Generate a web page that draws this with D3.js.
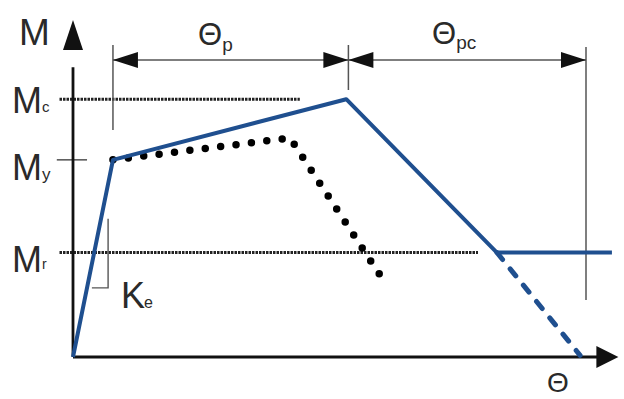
<!DOCTYPE html>
<html>
<head>
<meta charset="utf-8">
<script src="https://cdn.jsdelivr.net/npm/d3@7"></script>
<style>
  html, body { margin: 0; padding: 0; background: #fff; }
  svg { display: block; }
  text { font-family: "Liberation Sans", Arial, sans-serif; fill: #2a2a2a; }
</style>
</head>
<body>
<svg id="chart" width="624" height="399"></svg>
<script>
// Moment–rotation backbone (arbitrary units)
const backboneTheta = [0, 0.74, 5.06, 7.85, 9.98];
const backboneM     = [0, 5.85, 7.65, 3.1, 3.1];
// Continuation of the softening branch below the residual strength
const softenTheta = [7.85, 9.39];
const softenM     = [3.1, 0.05];
// Alternative (dotted) backbone
const altTheta = [0.74, 4.02, 5.8];
const altM     = [5.85, 6.5, 2.15];
// Reference levels
const levelNames = ["c", "y", "r"];
const levelM     = [7.65, 5.85, 3.1];
// Characteristic rotations bounding the dimension lines
const thetaY = 0.74, thetaC = 5.1, thetaU = 9.5;

const svg = d3.select("#chart");
const x = d3.scaleLinear().domain([0, 10]).range([73, 613]);
const y = d3.scaleLinear().domain([0, 10]).range([357, 20]);
const blue = "#1f4f8f";

const line = d3.line().x(d => x(d[0])).y(d => y(d[1]));
const zip = (a, b) => a.map((v, i) => [v, b[i]]);

// Horizontal reference lines for Mc and Mr
const refEnd = { c: 4.2, r: 7.5 };
["c", "r"].forEach(k => {
  const m = levelM[levelNames.indexOf(k)];
  svg.append("line")
    .attr("x1", x(-0.25)).attr("x2", x(refEnd[k]))
    .attr("y1", y(m)).attr("y2", y(m))
    .attr("stroke", "#222").attr("stroke-width", 3)
    .attr("stroke-dasharray", "2.5,1");
});
// My tick
svg.append("line")
  .attr("x1", x(-0.3)).attr("x2", x(0.26))
  .attr("y1", y(levelM[1])).attr("y2", y(levelM[1]))
  .attr("stroke", "#444").attr("stroke-width", 1.4);

// Axes
svg.append("line").attr("x1", x(0)).attr("x2", x(0))
  .attr("y1", y(0)).attr("y2", y(8.6))
  .attr("stroke", "#111").attr("stroke-width", 2.8);
svg.append("line").attr("x1", x(0)).attr("x2", x(9.8))
  .attr("y1", y(0)).attr("y2", y(0))
  .attr("stroke", "#111").attr("stroke-width", 2.8);
svg.append("path")
  .attr("d", `M${x(0)},${y(10)} L${x(0) - 10},${y(10) + 30} L${x(0) + 10},${y(10) + 30} Z`)
  .attr("fill", "#111");
svg.append("path")
  .attr("d", `M${x(10.1)},${y(0)} L${x(10.1) - 22},${y(0) - 11} L${x(10.1) - 22},${y(0) + 11} Z`)
  .attr("fill", "#111");

// Dimension lines for Θp and Θpc
const dimY = 60;
const dimStroke = "#555";
[[thetaY, 45, 130], [thetaC, 45, 90], [thetaU, 47, 300]].forEach(([t, a, b]) => {
  svg.append("line").attr("x1", x(t)).attr("x2", x(t)).attr("y1", a).attr("y2", b)
    .attr("stroke", dimStroke).attr("stroke-width", 1.5);
});
svg.append("line").attr("x1", x(thetaY)).attr("x2", x(thetaU)).attr("y1", dimY).attr("y2", dimY)
  .attr("stroke", dimStroke).attr("stroke-width", 1.5);
function arrowHead(tip, dir) {
  svg.append("path")
    .attr("d", `M${tip},${dimY} L${tip - dir * 25},${dimY - 8} L${tip - dir * 25},${dimY + 8} Z`)
    .attr("fill", "#111");
}
arrowHead(x(thetaY), -1);
arrowHead(x(thetaC), 1);
arrowHead(x(thetaC), -1);
arrowHead(x(thetaU), 1);

// Ke stiffness marker
svg.append("path")
  .attr("d", `M${x(0.65)},${y(4.1)} L${x(0.65)},${y(2.05)} L${x(0.35)},${y(2.05)}`)
  .attr("fill", "none").attr("stroke", "#555").attr("stroke-width", 1.4);

// Alternative dotted backbone
svg.append("path").datum(zip(altTheta, altM)).attr("d", line)
  .attr("fill", "none").attr("stroke", "#000").attr("stroke-width", 7.5)
  .attr("stroke-linecap", "round").attr("stroke-dasharray", "0,15.5");

// Softening continuation (dashed blue)
svg.append("path").datum(zip(softenTheta, softenM)).attr("d", line)
  .attr("fill", "none").attr("stroke", blue).attr("stroke-width", 5)
  .attr("stroke-linecap", "round").attr("stroke-dasharray", "9,12");

// Backbone
svg.append("path").datum(zip(backboneTheta, backboneM)).attr("d", line)
  .attr("fill", "none").attr("stroke", blue).attr("stroke-width", 4)
  .attr("stroke-linejoin", "round");

// Labels
function label(px, py, main, sub, size, subSize, dx, dy) {
  const t = svg.append("text").attr("x", px).attr("y", py).attr("font-size", size);
  t.append("tspan").text(main);
  if (sub) t.append("tspan").attr("font-size", subSize).attr("dx", dx).attr("dy", dy).text(sub);
}
label(19, 45, "M", null, 37);
label(12, 113, "M", "c", 36, 15, 0, -1);
label(12, 180, "M", "y", 36, 17, 0, 0);
label(12, 272, "M", "r", 36, 14, 0, -3);
label(121, 308, "K", "e", 36, 16, -1, 0);
label(198, 45, "Θ", "p", 31, 19, 0, 6);
label(432, 44, "Θ", "pc", 31, 19, 0, 5);
label(547, 392, "Θ", null, 28);
</script>
</body>
</html>
